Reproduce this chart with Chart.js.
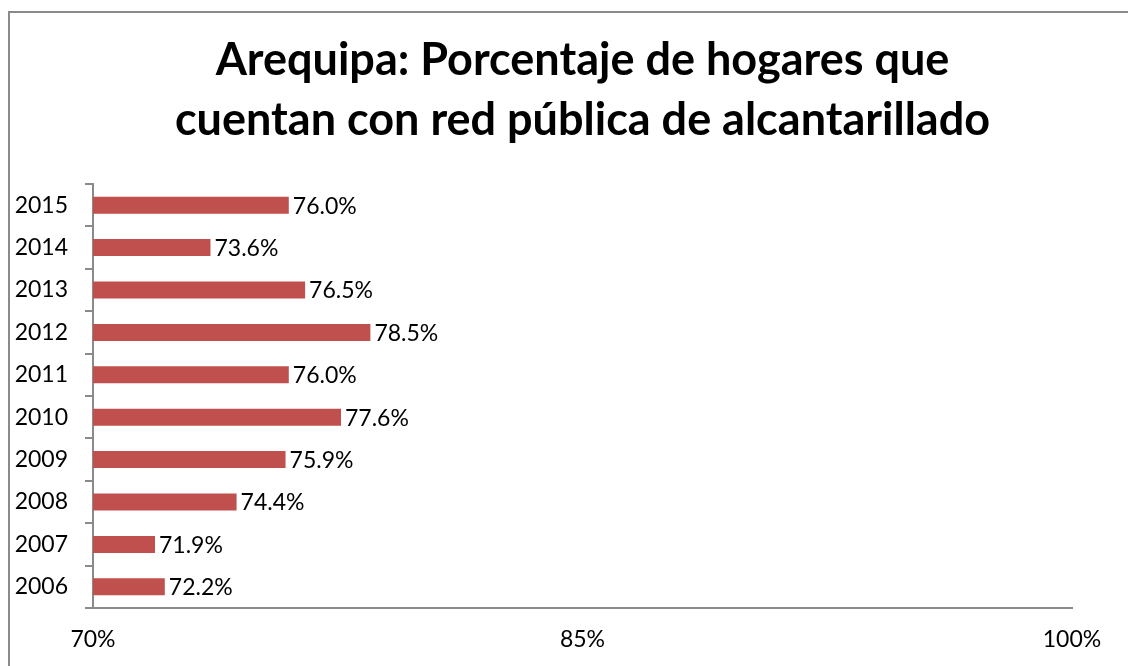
<!DOCTYPE html>
<html>
<head>
<meta charset="utf-8">
<script src="https://cdn.jsdelivr.net/npm/chart.js@4"></script>
<style>
  html, body { margin: 0; padding: 0; background: #fff; }
  #wrap { position: relative; width: 1128px; height: 666px; overflow: hidden; }
  #frame { position: absolute; left: 8px; top: 11px; width: 1200px; height: 700px;
           border-left: 2px solid #8a8a8a; border-top: 2px solid #8a8a8a; }
  canvas { position: absolute; left: 0; top: 0; }
</style>
</head>
<body>
<div id="wrap">
  <div id="frame"></div>
  <canvas id="myChart" width="1128" height="666"></canvas>
</div>
<script>
var years = ['2015', '2014', '2013', '2012', '2011', '2010', '2009', '2008', '2007', '2006'];
var hogares = [76.0, 73.6, 76.5, 78.5, 76.0, 77.6, 75.9, 74.4, 71.9, 72.2];
var xTicks = [70, 85, 100];

var FONT = 'Lato, "Open Sans", sans-serif';

// value labels right of each bar
var barLabels = {
    id: 'barLabels',
    afterDatasetsDraw: function(chart) {
        var ctx = chart.ctx;
        var meta = chart.getDatasetMeta(0);
        ctx.save();
        ctx.font = '23px ' + FONT;
        ctx.fillStyle = '#000';
        ctx.textBaseline = 'middle';
        ctx.textAlign = 'left';
        meta.data.forEach(function(bar, i) {
            ctx.fillText(hogares[i].toFixed(1) + '%', bar.x + 4, bar.y + 1);
        });
        ctx.restore();
    }
};

var ctx = document.getElementById('myChart').getContext('2d');
var chart = new Chart(ctx, {
    type: 'bar',
    data: {
        labels: years,
        datasets: [{
            data: hogares,
            backgroundColor: '#C0504D',
            barPercentage: 0.4,
            categoryPercentage: 1
        }]
    },
    options: {
        indexAxis: 'y',
        responsive: false,
        animation: false,
        layout: { padding: { left: 0, right: 56, top: 0, bottom: 0 } },
        plugins: {
            legend: { display: false },
            tooltip: { enabled: false },
            title: {
                display: true,
                fullSize: false,   // centre over the plot, like the original
                text: ['Arequipa: Porcentaje de hogares que', 'cuentan con red pública de alcantarillado'],
                color: '#000',
                font: { family: FONT, size: 45, weight: 'bold', lineHeight: 60 / 45 },
                padding: { top: 30, bottom: 34 }
            }
        },
        scales: {
            x: {
                min: 70,
                max: 100,
                afterBuildTicks: function(scale) {
                    scale.ticks = xTicks.map(function(v) { return { value: v }; });
                },
                afterFit: function(scale) { scale.height = 58; },
                grid: { drawOnChartArea: false, drawTicks: false },
                border: { display: true, color: '#8a8a8a', width: 2 },
                ticks: {
                    padding: 18,
                    color: '#000',
                    font: { family: FONT, size: 23 },
                    maxRotation: 0,
                    callback: function(v) { return v + '%'; }
                }
            },
            y: {
                afterFit: function(scale) { scale.width = 93; },
                grid: { drawOnChartArea: false, drawTicks: true, tickLength: 8, color: '#8a8a8a', lineWidth: 2 },
                border: { display: true, color: '#8a8a8a', width: 2 },
                ticks: {
                    padding: 17,
                    color: '#000',
                    font: { family: FONT, size: 23 }
                }
            }
        }
    },
    plugins: [barLabels]
});
</script>
</body>
</html>
